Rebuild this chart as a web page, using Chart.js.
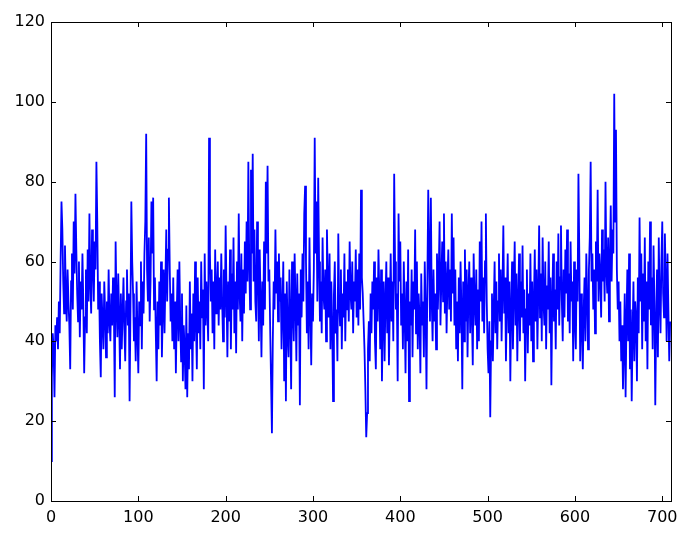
<!DOCTYPE html>
<html>
<head>
<meta charset="utf-8">
<script src="https://cdn.jsdelivr.net/npm/chart.js@4.4.1/dist/chart.umd.min.js"></script>
<style>
  html, body { margin: 0; padding: 0; background: #fff; }
  canvas { display: block; }
</style>
</head>
<body>
<canvas id="c" width="689" height="534"></canvas>
<script>
// series values, index 0..709
const values = [
  10, 31, 42, 38, 26, 44, 40, 46, 38, 50,
  42, 60, 75, 68, 55, 47, 64, 52, 45, 58,
  50, 44, 33, 55, 62, 48, 70, 57, 77, 63,
  52, 45, 60, 41, 55, 48, 62, 50, 32, 46,
  58, 42, 63, 50, 72, 55, 47, 68, 60, 50,
  65, 58, 85, 70, 48, 55, 40, 31, 52, 45,
  38, 55, 47, 36, 50, 42, 58, 45, 40, 52,
  44, 56, 48, 26, 65, 50, 41, 57, 46, 33,
  52, 38, 47, 56, 43, 35, 50, 58, 44, 52,
  25, 48, 75, 60, 52, 40, 46, 35, 55, 42,
  32, 50, 44, 60, 38, 55, 47, 62, 70, 92,
  58, 50, 66, 45, 55, 75, 62, 76, 48, 56,
  42, 30, 50, 38, 55, 44, 60, 36, 48, 58,
  42, 55, 68, 50, 63, 76, 58, 45, 52, 40,
  56, 38, 50, 32, 47, 58, 40, 60, 45, 35,
  52, 30, 44, 38, 28, 49, 26, 42, 33, 55,
  38, 47, 30, 52, 40, 60, 45, 33, 56, 42,
  50, 38, 60, 46, 53, 28, 62, 44, 55, 48,
  40, 91, 62, 50, 58, 42, 55, 38, 63, 47,
  52, 60, 44, 56, 48, 62, 50, 40, 58, 46,
  69, 52, 36, 55, 45, 63, 38, 57, 48, 66,
  42, 55, 37, 60, 48, 72, 52, 45, 62, 40,
  58, 47, 65, 52, 70, 55, 85, 60, 48, 83,
  62, 87, 55, 68, 50, 45, 70, 58, 40, 63,
  50, 36, 55, 44, 65, 48, 80, 62, 84, 55,
  58, 43, 30, 17, 40, 55, 48, 68, 52, 60,
  45, 62, 50, 56, 38, 48, 60, 30, 52, 25,
  55, 42, 36, 58, 46, 28, 60, 48, 40, 62,
  50, 35, 57, 44, 52, 24, 58, 46, 62, 50,
  72, 79, 60, 42, 55, 38, 66, 48, 34, 52,
  45, 58, 91, 62, 75, 50, 81, 60, 45, 55,
  42, 66, 52, 48, 58, 40, 68, 55, 46, 62,
  38, 55, 45, 25, 52, 60, 42, 48, 35, 67,
  50, 44, 58, 38, 52, 46, 62, 40, 55, 48,
  58, 45, 65, 52, 48, 60, 42, 55, 50, 63,
  46, 58, 44, 62, 48, 78, 56, 52, 45, 38,
  28, 16, 22, 38, 45, 35, 52, 42, 55, 48,
  60, 40, 33, 56, 45, 63, 52, 38, 58, 30,
  46, 55, 35, 50, 60, 42, 56, 34, 48, 62,
  45, 55, 40, 82, 60, 48, 52, 30, 72, 55,
  65, 44, 52, 38, 60, 47, 32, 55, 40, 63,
  25, 50, 44, 58, 36, 55, 48, 68, 42, 60,
  38, 52, 46, 32, 57, 44, 50, 36, 60, 48,
  28, 55, 78, 62, 45, 76, 50, 40, 58, 45,
  52, 38, 62, 48, 57, 70, 44, 55, 65, 50,
  72, 47, 60, 42, 55, 63, 48, 58, 45, 72,
  52, 66, 44, 58, 38, 50, 35, 56, 42, 60,
  48, 28, 55, 40, 63, 45, 58, 36, 52, 60,
  42, 56, 47, 34, 62, 50, 44, 58, 38, 53,
  40, 65, 50, 70, 45, 56, 42, 60, 72, 50,
  38, 32, 45, 21, 40, 52, 35, 48, 60, 42,
  55, 38, 50, 62, 45, 58, 40, 53, 69, 47,
  56, 35, 50, 62, 42, 55, 30, 48, 60, 38,
  52, 65, 44, 57, 35, 50, 62, 40, 55, 46,
  64, 42, 53, 30, 48, 58, 37, 52, 44, 62,
  40, 55, 35, 50, 63, 45, 58, 38, 52, 69,
  46, 57, 40, 66, 50, 44, 60, 38, 54, 48,
  65, 42, 56, 29, 50, 62, 45, 53, 38, 60,
  48, 67, 44, 56, 69, 50, 40, 58, 46, 63,
  52, 68, 45, 57, 42, 65, 50, 55, 35, 60,
  45, 38, 58, 50, 82, 62, 35, 52, 44, 33,
  48, 56, 40, 62, 52, 38, 58, 66, 85, 55,
  62, 48, 58, 42, 65, 55, 78, 50, 62, 57,
  46, 68, 55, 63, 50, 80, 58, 52, 66, 45,
  60, 74, 55, 68, 62, 102, 70, 93, 58, 48,
  55, 40, 50, 35, 44, 28, 38, 52, 26, 45,
  58, 40, 62, 33, 48, 25, 42, 55, 35, 50,
  46, 30, 56, 42, 71, 50, 62, 38, 57, 45,
  66, 40, 55, 33, 60, 48, 70, 44, 56, 38,
  64, 50, 24, 45, 58, 36, 66, 50, 42, 60,
  70, 52, 46, 67, 55, 40, 62, 48, 35, 45
];
const xTicks = [0, 100, 200, 300, 400, 500, 600, 700];
const yTicks = [0, 20, 40, 60, 80, 100, 120];
const X_MAX = 710;
const Y_MAX = 120;

const points = values.map((v, i) => ({ x: i, y: v }));

// matplotlib-classic style frame: black box with inward ticks on all four sides
const framePlugin = {
    id: 'frame',
    afterDraw(chart) {
        const { ctx, chartArea: a, scales } = chart;
        ctx.save();
        ctx.strokeStyle = '#000';
        ctx.lineWidth = 1;
        ctx.beginPath();
        xTicks.forEach(t => {
            const px = Math.round(scales.x.getPixelForValue(t)) + 0.5;
            ctx.moveTo(px, a.bottom); ctx.lineTo(px, a.bottom - 5);
            ctx.moveTo(px, a.top); ctx.lineTo(px, a.top + 5);
        });
        yTicks.forEach(t => {
            const py = Math.round(scales.y.getPixelForValue(t)) + 0.5;
            ctx.moveTo(a.left, py); ctx.lineTo(a.left + 5, py);
            ctx.moveTo(a.right, py); ctx.lineTo(a.right - 5, py);
        });
        ctx.stroke();
        ctx.strokeRect(Math.round(a.left) + 0.5, Math.round(a.top) + 0.5,
            Math.round(a.right - a.left), Math.round(a.bottom - a.top));
        ctx.restore();
    }
};

new Chart(document.getElementById('c'), {
    type: 'line',
    data: {
        datasets: [{
            data: points,
            borderColor: '#0000ff',
            borderWidth: 1.8,
            pointRadius: 0,
            tension: 0,
            fill: false
        }]
    },
    options: {
        responsive: false,
        animation: false,
        parsing: false,
        layout: { padding: { top: 22, right: 18, left: 0, bottom: 0 } },
        plugins: { legend: { display: false }, tooltip: { enabled: false } },
        scales: {
            x: {
                type: 'linear', min: 0, max: X_MAX,
                grid: { display: false, drawTicks: false },
                border: { display: false },
                afterFit: s => { s.height = 33; },
                afterBuildTicks: s => { s.ticks = xTicks.map(v => ({ value: v })); },
                ticks: { color: '#000', padding: 7, maxRotation: 0,
                    font: { family: 'DejaVu Sans', size: 16 } }
            },
            y: {
                min: 0, max: Y_MAX,
                grid: { display: false, drawTicks: false },
                border: { display: false },
                afterFit: s => { s.width = 51; },
                afterBuildTicks: s => { s.ticks = yTicks.map(v => ({ value: v })); },
                ticks: { color: '#000', padding: 6,
                    font: { family: 'DejaVu Sans', size: 16 } }
            }
        }
    },
    plugins: [framePlugin]
});
</script>
</body>
</html>
